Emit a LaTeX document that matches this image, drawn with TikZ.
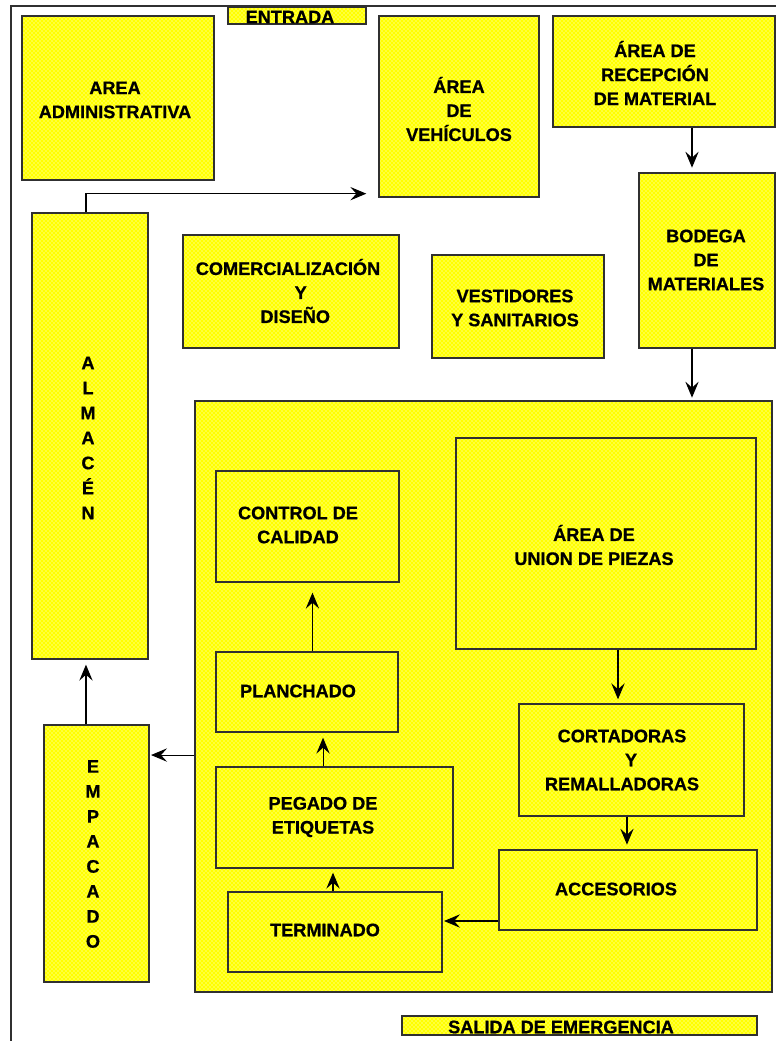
\documentclass[tikz,border=0pt]{standalone}
\usepackage{fontspec}
\setmainfont{Liberation Sans}[BoldFeatures={FakeBold=0.8}]
\usetikzlibrary{arrows.meta,patterns,fit}
\definecolor{edge}{HTML}{303030}
\definecolor{roomfill}{HTML}{FFFF00}
\begin{document}
\begin{tikzpicture}[x=0.75pt,y=-0.75pt,
  room/.style={draw=edge, line width=1pt, preaction={fill=roomfill},
    pattern=crosshatch dots, pattern color=white, inner sep=0pt},
  lbl/.style={font=\bfseries\fontsize{13.6}{18}\selectfont, align=center, inner sep=0pt, text=black},
  vlbl/.style={font=\bfseries\fontsize{13.6}{18.75}\selectfont, align=center, inner sep=0pt, text=black},
  flow/.style={draw=black, line width=0.8pt, -{Stealth[length=12pt,width=10pt,inset=4.5pt]}},
]
\useasboundingbox (0,0) rectangle (776,1041);

% plant outline
\draw[edge, line width=1pt] (11,1041) -- (11,6) -- (776,6);

% rooms outside the production hall
\node[room, fit={(228,7) (366,24)}] (ent) {};
\node[room, fit={(22,16) (214,180)}] (adm) {};
\node[room, fit={(379,16) (539,197)}] (veh) {};
\node[room, fit={(553,16) (775,127)}] (rec) {};
\node[room, fit={(639,173) (775,348)}] (bod) {};
\node[room, fit={(32,213) (148,659)}] (alm) {};
\node[room, fit={(183,235) (399,348)}] (com) {};
\node[room, fit={(432,255) (604,358)}] (ves) {};
\node[room, fit={(44,725) (149,982)}] (emp) {};
\node[room, fit={(402,1016) (757,1035)}] (sal) {};

% production hall and its stations
\node[room, fit={(195,401) (772,992)}] (big) {};
\node[room, fit={(216,471) (399,582)}] (cal) {};
\node[room, fit={(456,438) (756,649)}] (uni) {};
\node[room, fit={(216,652) (398,732)}] (pla) {};
\node[room, fit={(216,767) (453,868)}] (peg) {};
\node[room, fit={(519,704) (744,816)}] (cor) {};
\node[room, fit={(499,850) (757,930)}] (acc) {};
\node[room, fit={(228,892) (442,972)}] (ter) {};

% labels
\node[lbl] (entT) at (290,17) {ENTRADA};
\node[lbl] (admT) at (115,100) {AREA\\ADMINISTRATIVA};
\node[lbl] (vehT) at (459,109) {ÁREA\\DE\\VEHÍCULOS};
\node[lbl] (recT) at (655,73) {ÁREA DE\\RECEPCIÓN\\DE MATERIAL};
\node[lbl] (bodT) at (706,260) {BODEGA\\DE\\MATERIALES};
\node[vlbl] (almT) at (88,438) {A\\L\\M\\A\\C\\É\\N};
\node[lbl] (comT) at (288,291) {COMERCIALIZACIÓN\\\hspace*{1.4em}Y\\\hspace*{0.8em}DISEÑO};
\node[lbl] (vesT) at (515,308) {VESTIDORES\\Y SANITARIOS};
\node[vlbl] (empT) at (93,854) {E\\M\\P\\A\\C\\A\\D\\O};
\node[lbl] (calT) at (298,525) {CONTROL DE\\CALIDAD};
\node[lbl] (uniT) at (594,545) {ÁREA DE\\UNION DE PIEZAS};
\node[lbl] (plaT) at (298,691) {PLANCHADO};
\node[lbl] (pegT) at (323,817) {PEGADO DE\\ETIQUETAS};
\node[lbl] (corT) at (622,760) {CORTADORAS\\\hspace*{1em}Y\\REMALLADORAS};
\node[lbl] (accT) at (616,889) {ACCESORIOS};
\node[lbl] (terT) at (325,930) {TERMINADO};
\node[lbl] (salT) at (561,1027) {SALIDA DE EMERGENCIA};

% material flow
\draw[flow] ([xshift=-3pt]alm.north) |- ([xshift=-9pt,yshift=3pt]veh.south west);
\draw[flow, shorten >=3.5pt] ([xshift=21pt]rec.south) -- ([xshift=21pt]rec.south |- bod.north);
\draw[flow, shorten >=2pt] ([xshift=-11.25pt]bod.south) -- ([xshift=-11.25pt]bod.south |- big.north);
\draw[flow, shorten >=3pt] ([xshift=9pt]uni.south) -- ([xshift=9pt]uni.south |- cor.north);
\draw[flow, shorten >=3.5pt] ([xshift=-3.4pt]cor.south) -- ([xshift=-3.4pt]cor.south |- acc.north);
\draw[flow, shorten >=1pt] ([yshift=-23.25pt]acc.west) -- ([yshift=-23.25pt]acc.west -| ter.east);
\draw[flow, shorten >=3pt] ([xshift=-1.5pt]ter.north) -- ([xshift=-1.5pt]ter.north |- peg.south);
\draw[flow, shorten >=3.75pt] ([xshift=-8.6pt]peg.north) -- ([xshift=-8.6pt]peg.north |- pla.south);
\draw[flow, shorten >=7.5pt] ([xshift=4.1pt]pla.north) -- ([xshift=4.1pt]pla.north |- cal.south);
\draw[flow, shorten >=1pt] ([yshift=-43.9pt]big.west) -- ([yshift=-43.9pt]big.west -| emp.east);
\draw[flow, shorten >=3.75pt] ([xshift=-7.9pt]emp.north) -- ([xshift=-7.9pt]emp.north |- alm.south);
\end{tikzpicture}
\end{document}
